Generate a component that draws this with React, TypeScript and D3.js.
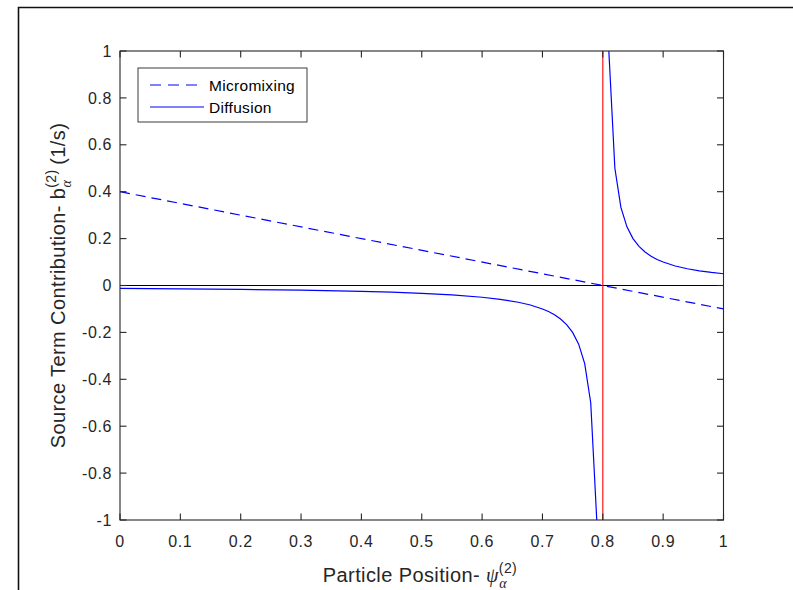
import React from "react";
import * as d3 from "d3";

const W = 793;
const H = 590;

const xTicks = [0, 0.1, 0.2, 0.3, 0.4, 0.5, 0.6, 0.7, 0.8, 0.9, 1];
const xTickLabels = ["0", "0.1", "0.2", "0.3", "0.4", "0.5", "0.6", "0.7", "0.8", "0.9", "1"];
const yTicks = [-1, -0.8, -0.6, -0.4, -0.2, 0, 0.2, 0.4, 0.6, 0.8, 1];
const yTickLabels = ["-1", "-0.8", "-0.6", "-0.4", "-0.2", "0", "0.2", "0.4", "0.6", "0.8", "1"];

// Micromixing (dashed)
const microX = [0, 1];
const microY = [0.4, -0.1];

// Diffusion, left branch
const diffLeftX = [0, 0.1, 0.2, 0.3, 0.4, 0.45, 0.5, 0.55, 0.6, 0.63, 0.66, 0.68, 0.7, 0.71, 0.72, 0.73, 0.74, 0.75, 0.76, 0.77, 0.78, 0.79];
const diffLeftY = [-0.0125, -0.0143, -0.0167, -0.02, -0.025, -0.0286, -0.0333, -0.04, -0.05, -0.0588, -0.0714, -0.0833, -0.1, -0.111, -0.125, -0.143, -0.167, -0.2, -0.25, -0.333, -0.5, -1.0];
// Diffusion, right branch
const diffRightX = [0.81, 0.82, 0.83, 0.84, 0.85, 0.86, 0.87, 0.88, 0.89, 0.9, 0.92, 0.94, 0.96, 0.98, 1.0];
const diffRightY = [1.0, 0.5, 0.333, 0.25, 0.2, 0.167, 0.143, 0.125, 0.111, 0.1, 0.0833, 0.0714, 0.0625, 0.0556, 0.05];

// Reference lines
const zeroLineY = 0;
const criticalX = 0.8;

const legendLabels = ["Micromixing", "Diffusion"];

const X0 = 120, X1 = 723.5, Y0 = 51, Y1 = 520;
const TICK = 6.5;
const AX = "#262626";
const FONT = "'Liberation Sans', Arial, Helvetica, sans-serif";
const SERIF = "'Liberation Serif', 'DejaVu Serif', serif";

export default function App() {
  const x = d3.scaleLinear().domain([0, 1]).range([X0, X1]);
  const y = d3.scaleLinear().domain([-1, 1]).range([Y1, Y0]);
  const line = d3
    .line<[number, number]>()
    .x((d) => x(d[0]))
    .y((d) => y(d[1]));

  const micro = line(microX.map((v, i) => [v, microY[i]] as [number, number])) || "";
  const left = line(diffLeftX.map((v, i) => [v, diffLeftY[i]] as [number, number])) || "";
  const right = line(diffRightX.map((v, i) => [v, diffRightY[i]] as [number, number])) || "";

  const blue = "#0000ff";

  return (
    <svg
      width={W}
      height={H}
      style={{ position: "absolute", left: 0, top: 0, background: "#fff" }}
      fontFamily={FONT}
    >
      <rect x={0} y={0} width={W} height={H} fill="#fff" />
      {/* outer frame */}
      <path d={`M18.5,${H} V7.5 H${W}`} fill="none" stroke="#111" strokeWidth={1.6} />

      <defs>
        <clipPath id="plotclip">
          <rect x={X0} y={Y0} width={X1 - X0} height={Y1 - Y0} />
        </clipPath>
      </defs>

      <g clipPath="url(#plotclip)">
        <path d={micro} fill="none" stroke={blue} strokeWidth={1.2} strokeDasharray="10 6" />
        <path d={left} fill="none" stroke={blue} strokeWidth={1.2} />
        <path d={right} fill="none" stroke={blue} strokeWidth={1.2} />
        <line x1={X0} x2={X1} y1={y(zeroLineY)} y2={y(zeroLineY)} stroke="#000" strokeWidth={1.2} />
        <line x1={x(criticalX)} x2={x(criticalX)} y1={Y0} y2={Y1} stroke="#ff0000" strokeWidth={1.3} strokeOpacity={0.85} />
      </g>

      {/* axes box */}
      <rect x={X0} y={Y0} width={X1 - X0} height={Y1 - Y0} fill="none" stroke={AX} strokeWidth={1.1} />
      {xTicks.map((t) => (
        <g key={"xt" + t}>
          <line x1={x(t)} x2={x(t)} y1={Y1} y2={Y1 - TICK} stroke={AX} strokeWidth={1.1} />
          <line x1={x(t)} x2={x(t)} y1={Y0} y2={Y0 + TICK} stroke={AX} strokeWidth={1.1} />
        </g>
      ))}
      {yTicks.map((t) => (
        <g key={"yt" + t}>
          <line x1={X0} x2={X0 + TICK} y1={y(t)} y2={y(t)} stroke={AX} strokeWidth={1.1} />
          <line x1={X1} x2={X1 - TICK} y1={y(t)} y2={y(t)} stroke={AX} strokeWidth={1.1} />
        </g>
      ))}
      {xTicks.map((t, i) => (
        <text key={"xl" + t} x={x(t)} y={546.5} textAnchor="middle" fontSize={16} letterSpacing={0.6} fill={AX}>
          {xTickLabels[i]}
        </text>
      ))}
      {yTicks.map((t, i) => (
        <text key={"yl" + t} x={112} y={y(t) + 5.6} textAnchor="end" fontSize={16} letterSpacing={0.6} fill={AX}>
          {yTickLabels[i]}
        </text>
      ))}

      {/* x label */}
      <text x={420} y={582} textAnchor="middle" fontSize={20} letterSpacing={0.4} fill={AX}>
        <tspan>Particle Position- </tspan>
        <tspan fontFamily={SERIF} fontStyle="italic" fontSize={20}>ψ</tspan>
        <tspan fontSize={14} dy={-9}>(2)</tspan>
        <tspan fontFamily={SERIF} fontStyle="italic" fontSize={14} dx={-18} dy={15}>α</tspan>
      </text>

      {/* y label */}
      <text transform={`translate(65,${(Y0 + Y1) / 2}) rotate(-90)`} textAnchor="middle" fontSize={20} letterSpacing={0.4} fill={AX}>
        <tspan>Source Term Contribution- b</tspan>
        <tspan fontSize={14} dy={-9}>(2)</tspan>
        <tspan fontFamily={SERIF} fontStyle="italic" fontSize={14} dx={-18} dy={15}>α</tspan>
        <tspan dx={9} dy={-6}> (1/s)</tspan>
      </text>

      {/* legend */}
      <rect x={138} y={68} width={169} height={54} fill="#fff" stroke={AX} strokeWidth={0.9} />
      <line x1={150} x2={204} y1={85} y2={85} stroke={blue} strokeWidth={1.2} strokeDasharray="11 7" />
      <line x1={150} x2={204} y1={107} y2={107} stroke={blue} strokeWidth={1.2} />
      <text x={209} y={90.5} fontSize={15.5} letterSpacing={0.3} fill="#000">{legendLabels[0]}</text>
      <text x={209} y={112.5} fontSize={15.5} letterSpacing={0.3} fill="#000">{legendLabels[1]}</text>
    </svg>
  );
}
